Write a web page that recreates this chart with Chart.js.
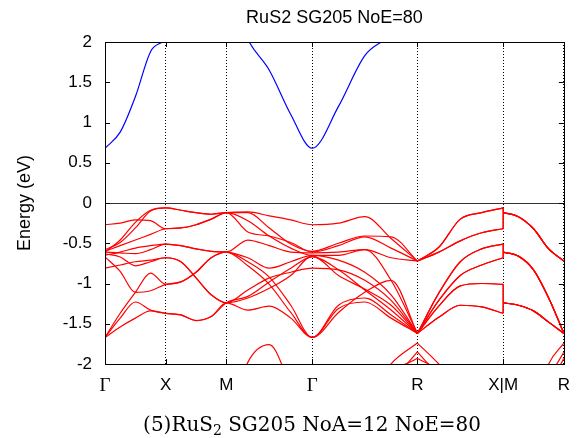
<!DOCTYPE html>
<html>
<head>
<meta charset="utf-8">
<script src="https://cdn.jsdelivr.net/npm/chart.js@4/dist/chart.umd.min.js"></script>
<style>
  html, body { margin: 0; padding: 0; background: #fff; }
  canvas { display: block; }
</style>
</head>
<body>
<canvas id="band-chart" width="581" height="438"></canvas>
<script>
// k-path nodes (2pi/a) and their labels
const kNodes = [0, 0.5, 1.0, 1.7071, 2.5731, 3.2802, 3.7802];
const tickLabels = ["Γ", "X", "M", "Γ", "R", "X|M", "R"];
// energies (eV) read at t = 0, .25, .5, .75, 1 along each segment
// segments: Γ-X, X-M, M-Γ, Γ-R, R-X, M-R
const sampleT = [0, 0.25, 0.5, 0.75, 1];

const band1 = [
  [-0.27, -0.25, -0.21, -0.22, -0.32],
  [-0.32, -0.31, -0.27, -0.20, -0.12],
  [-0.12, -0.11, -0.16, -0.21, -0.27],
  [-0.27, -0.25, -0.17, -0.44, -0.72],
  [-0.72, -0.55, -0.20, -0.12, -0.06],
  [-0.12, -0.17, -0.32, -0.57, -0.72]
];
const band2 = [
  [-0.58, -0.49, -0.31, -0.10, -0.06],
  [-0.06, -0.09, -0.12, -0.14, -0.12],
  [-0.12, -0.12, -0.31, -0.51, -0.60],
  [-0.60, -0.50, -0.41, -0.42, -0.72],
  [-0.72, -0.55, -0.20, -0.12, -0.06],
  [-0.12, -0.17, -0.32, -0.57, -0.72]
];
const band3 = [
  [-0.60, -0.53, -0.46, -0.39, -0.32],
  [-0.32, -0.31, -0.27, -0.20, -0.12],
  [-0.12, -0.36, -0.41, -0.49, -0.61],
  [-0.61, -0.53, -0.42, -0.56, -0.72],
  [-0.72, -0.61, -0.47, -0.37, -0.32],
  [-0.12, -0.17, -0.32, -0.57, -0.72]
];
const band4 = [
  [-0.61, -0.46, -0.24, -0.09, -0.06],
  [-0.06, -0.09, -0.12, -0.14, -0.12],
  [-0.12, -0.22, -0.41, -0.56, -0.65],
  [-0.65, -0.65, -0.58, -0.68, -0.72],
  [-0.72, -0.61, -0.47, -0.37, -0.32],
  [-0.12, -0.17, -0.32, -0.57, -0.72]
];
const band5 = [
  [-0.61, -0.62, -0.63, -0.58, -0.51],
  [-0.51, -0.53, -0.57, -0.60, -0.61],
  [-0.61, -0.46, -0.53, -0.61, -0.62],
  [-0.62, -0.61, -0.58, -0.96, -1.62],
  [-1.62, -1.12, -0.73, -0.57, -0.51],
  [-0.61, -0.66, -0.83, -1.18, -1.62]
];
const band6 = [
  [-0.65, -0.61, -0.56, -0.53, -0.51],
  [-0.51, -0.53, -0.57, -0.60, -0.61],
  [-0.61, -0.68, -0.81, -0.73, -0.65],
  [-0.65, -0.71, -0.86, -1.14, -1.62],
  [-1.62, -1.12, -0.73, -0.57, -0.51],
  [-0.61, -0.66, -0.83, -1.18, -1.62]
];
const band7 = [
  [-0.81, -0.77, -0.73, -0.71, -0.68],
  [-0.68, -0.73, -0.93, -1.14, -1.24],
  [-1.24, -1.08, -0.93, -0.86, -0.81],
  [-0.81, -0.83, -0.96, -1.21, -1.62],
  [-1.62, -1.21, -0.90, -0.77, -0.68],
  [-0.61, -0.66, -0.83, -1.18, -1.62]
];
const band8 = [
  [-0.63, -0.67, -0.78, -0.73, -0.68],
  [-0.68, -0.73, -0.93, -1.14, -1.24],
  [-1.24, -1.18, -1.06, -0.90, -0.66],
  [-0.66, -0.90, -1.07, -1.27, -1.62],
  [-1.62, -1.21, -0.90, -0.77, -0.68],
  [-0.61, -0.66, -0.83, -1.18, -1.62]
];
const band9 = [
  [-0.67, -0.85, -1.11, -1.09, -1.01],
  [-1.01, -0.98, -0.86, -0.68, -0.61],
  [-0.61, -0.78, -1.01, -1.36, -1.67],
  [-1.67, -1.36, -1.11, -0.96, -1.62],
  [-1.62, -1.28, -1.03, -1.00, -1.01],
  [-1.24, -1.27, -1.34, -1.48, -1.62]
];
const band10 = [
  [-1.67, -1.37, -1.11, -0.87, -1.01],
  [-1.01, -0.98, -0.86, -0.68, -0.61],
  [-0.61, -0.73, -0.92, -1.27, -1.67],
  [-1.67, -1.27, -1.18, -1.39, -1.62],
  [-1.62, -1.28, -1.03, -1.00, -1.01],
  [-1.24, -1.27, -1.34, -1.48, -1.62]
];
const band11 = [
  [-1.67, -1.43, -1.23, -1.33, -1.37],
  [-1.37, -1.39, -1.46, -1.41, -1.24],
  [-1.24, -1.33, -1.28, -1.43, -1.67],
  [-1.67, -1.31, -1.23, -1.43, -1.62],
  [-1.62, -1.42, -1.27, -1.29, -1.37],
  [-1.24, -1.27, -1.34, -1.48, -1.62]
];
const band12 = [
  [-1.67, -1.54, -1.43, -1.34, -1.37],
  [-1.37, -1.39, -1.46, -1.41, -1.24],
  [-1.24, -1.16, -0.98, -0.81, -0.67],
  [-0.67, -0.83, -1.08, -1.33, -1.62],
  [-1.62, -1.42, -1.27, -1.29, -1.37],
  [-1.24, -1.27, -1.34, -1.48, -1.62]
];
// deeper bands peeking in at the bottom
const deep1 = [
  [-2.8, -2.8, -2.8, -2.8, -2.8],
  [-2.8, -2.8, -2.8, -2.8, -2.8],
  [-2.6, -1.98, -1.76, -2.25, -2.6],
  [-2.6, -2.8, -2.5, -2.0, -1.74],
  [-1.74, -2.0, -2.3, -2.6, -2.8],
  [-2.8, -2.8, -2.6, -2.0, -1.74]
];
const deep2 = [
  [-2.9, -2.9, -2.9, -2.9, -2.9],
  [-2.9, -2.9, -2.9, -2.9, -2.9],
  [-2.9, -2.9, -2.9, -2.9, -2.9],
  [-2.9, -2.9, -2.8, -2.25, -1.85],
  [-1.85, -2.15, -2.5, -2.8, -2.9],
  [-2.9, -2.9, -2.8, -2.2, -1.85]
];
const deep3 = [
  [-3.0, -3.0, -3.0, -3.0, -3.0],
  [-3.0, -3.0, -3.0, -3.0, -3.0],
  [-3.0, -3.0, -3.0, -3.0, -3.0],
  [-3.0, -3.0, -2.9, -2.15, -1.93],
  [-1.93, -2.1, -2.6, -2.9, -3.0],
  [-3.0, -3.0, -2.9, -2.3, -1.93]
];
// lowest conduction band
const cond1 = [
  [0.68, 0.88, 1.32, 1.88, 2.05],
  [2.05, 2.5, 2.8, 2.8, 2.7],
  [2.7, 2.03, 1.65, 1.10, 0.68],
  [0.68, 1.2, 1.83, 2.1, 2.6],
  [2.6, 2.9, 3.0, 3.0, 3.0],
  [3.0, 3.0, 3.0, 3.0, 3.0]
];

const valence = [band1, band2, band3, band4, band5, band6, band7, band8, band9, band10, band11, band12, deep1, deep2, deep3];
const conduction = [cond1];

const SANS = "'Liberation Sans', Arial, sans-serif";
const SERIF = "'Liberation Serif', 'Times New Roman', serif";
const CAPTION_SERIF = "'DejaVu Serif', 'Liberation Serif', serif";

const datasets = [];
const lineStyle = {
  showLine: true,
  pointRadius: 0,
  borderWidth: 1.2,
  fill: false,
  cubicInterpolationMode: "monotone"
};

// points of segments s0..s1 joined into one path
function pathPoints(band, s0, s1) {
  const pts = [];
  for (let s = s0; s <= s1; s++) {
    const k0 = kNodes[s], k1 = kNodes[s + 1];
    band[s].forEach((e, i) => {
      if (s > s0 && i === 0) return;
      pts.push({ x: k0 + sampleT[i] * (k1 - k0), y: e });
    });
  }
  return pts;
}

function addBand(band, color) {
  // Γ-X-M-Γ-R as one smooth path, then R-X and M-R
  [[0, 3], [4, 4], [5, 5]].forEach(([a, b]) => {
    datasets.push({ ...lineStyle, borderColor: color, data: pathPoints(band, a, b) });
  });
  // vertical jump at X|M
  datasets.push({
    ...lineStyle,
    cubicInterpolationMode: "default",
    tension: 0,
    borderColor: color,
    data: [{ x: kNodes[5], y: band[4][4] }, { x: kNodes[5], y: band[5][0] }]
  });
}
valence.forEach(b => addBand(b, "#ff0000"));
conduction.forEach(b => addBand(b, "#0000ff"));

// frame, inward ticks and the text around the plot
const decor = {
  id: "decor",
  afterDraw(chart) {
    const { ctx, chartArea: a, scales } = chart;
    ctx.save();
    ctx.strokeStyle = "#000";
    ctx.lineWidth = 1;
    ctx.beginPath();
    [-2, -1.5, -1, -0.5, 0, 0.5, 1, 1.5, 2].forEach(v => {
      const y = Math.round(scales.y.getPixelForValue(v)) + 0.5;
      ctx.moveTo(a.left, y); ctx.lineTo(a.left + 5, y);
      ctx.moveTo(a.right, y); ctx.lineTo(a.right - 5, y);
    });
    kNodes.forEach(k => {
      const x = Math.round(scales.x.getPixelForValue(k)) + 0.5;
      ctx.moveTo(x, a.bottom); ctx.lineTo(x, a.bottom - 5);
      ctx.moveTo(x, a.top); ctx.lineTo(x, a.top + 5);
    });
    ctx.stroke();
    ctx.strokeRect(Math.round(a.left) + 0.5, Math.round(a.top) + 0.5,
      Math.round(a.right - a.left), Math.round(a.bottom - a.top));

    ctx.fillStyle = "#000";
    ctx.textAlign = "center";
    ctx.textBaseline = "middle";
    ctx.font = "18px " + SANS;
    ctx.fillText("RuS2 SG205 NoE=80", (a.left + a.right) / 2, 18);

    ctx.save();
    ctx.translate(25, (a.top + a.bottom) / 2);
    ctx.rotate(-Math.PI / 2);
    ctx.fillText("Energy (eV)", 0, 0);
    ctx.restore();

    // caption with subscript 2, sized to the reference width
    const parts = [["(5)RuS", 1, 0], ["2", 0.7, 0.22], [" SG205 NoA=12 NoE=80", 1, 0]];
    const widthAt = size => parts.reduce((w, p) => {
      ctx.font = (size * p[1]) + "px " + CAPTION_SERIF;
      return w + ctx.measureText(p[0]).width;
    }, 0);
    const size = 20 * 338 / widthAt(20);
    let x = 312 - widthAt(size) / 2;
    ctx.textAlign = "left";
    ctx.textBaseline = "alphabetic";
    parts.forEach(p => {
      ctx.font = (size * p[1]) + "px " + CAPTION_SERIF;
      ctx.fillText(p[0], x, 431 + p[2] * size);
      x += ctx.measureText(p[0]).width;
    });
    ctx.restore();
  }
};

new Chart(document.getElementById("band-chart"), {
  type: "scatter",
  data: { datasets },
  options: {
    responsive: false,
    animation: false,
    devicePixelRatio: 1,
    layout: { padding: { left: 0, right: 8, top: 42, bottom: 0 } },
    plugins: {
      legend: { display: false },
      tooltip: { enabled: false },
      title: { display: false }
    },
    scales: {
      x: {
        type: "linear",
        min: 0,
        max: kNodes[kNodes.length - 1],
        afterBuildTicks: s => { s.ticks = kNodes.map(v => ({ value: v })); },
        afterFit: s => { s.height = 74; },
        ticks: {
          autoSkip: false,
          maxRotation: 0,
          padding: 11,
          color: "#000",
          font: c => (tickLabels[c.index] === "Γ"
            ? { family: SERIF, size: 19 }
            : { family: SANS, size: 17 }),
          callback: (v, i) => tickLabels[i]
        },
        grid: { color: "#000", lineWidth: 1, drawTicks: false },
        border: { display: false, dash: [1, 2] }
      },
      y: {
        min: -2,
        max: 2,
        afterFit: s => { s.width = 105; },
        ticks: {
          stepSize: 0.5,
          padding: 13,
          color: "#000",
          font: { family: SANS, size: 17 },
          callback: v => String(v)
        },
        grid: {
          drawTicks: false,
          lineWidth: 1,
          color: c => (c.tick.value === 0 ? "#333" : "rgba(0,0,0,0)")
        },
        border: { display: false }
      }
    }
  },
  plugins: [decor]
});
</script>
</body>
</html>
